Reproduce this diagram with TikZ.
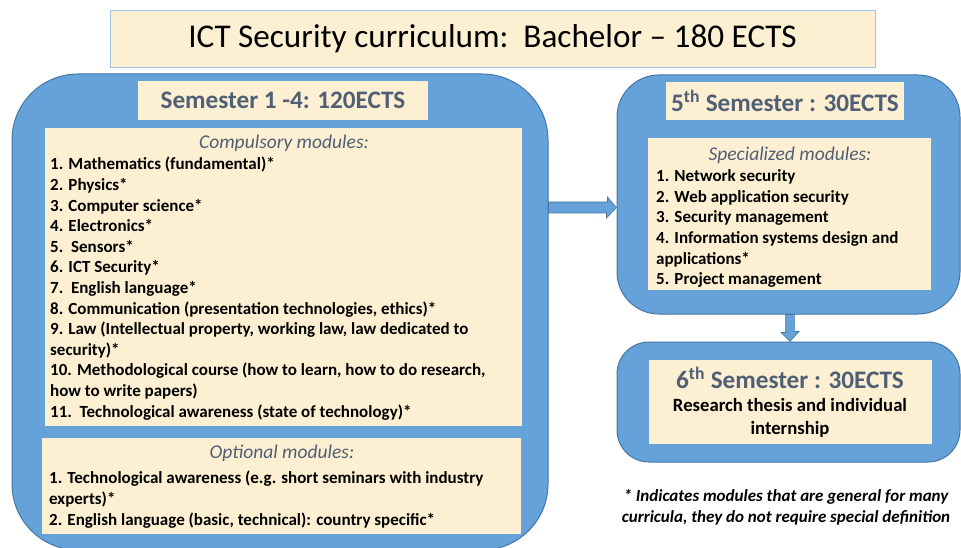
\documentclass[tikz,border=0pt]{standalone}
\usepackage{fontspec}
\setmainfont{Carlito}
\definecolor{boxblue}{RGB}{101,162,218}
\definecolor{boxedge}{RGB}{70,118,162}
\definecolor{beige}{RGB}{253,239,210}
\definecolor{titleedge}{RGB}{160,196,228}
\definecolor{headtxt}{RGB}{79,96,118}
\tikzset{
  bigbox/.style={draw=boxedge, line width=1pt, fill=boxblue, inner sep=0pt},
  beigebox/.style={fill=beige, draw=none, inner sep=0pt},
  headtext/.style={font=\fontsize{25.2}{29}\selectfont\bfseries, text=headtxt, inner sep=0pt},
  subtitle/.style={font=\fontsize{19.5}{22}\selectfont\itshape, text=headtxt, inner sep=0pt},
  listtext/.style={font=\fontsize{17}{20.6}\selectfont\bfseries, align=left, inner sep=0pt, anchor=north west},
  blockarrow/.style={fill=boxblue, draw=boxedge, line width=0.6pt, line join=miter}
}
\begin{document}
\begin{tikzpicture}[x=1pt,y=-1pt]
\useasboundingbox (0,0) rectangle (961,548);
% title
\node[fill=beige, draw=titleedge, line width=0.8pt, minimum width=765pt, minimum height=57pt, inner sep=0pt,
  font=\fontsize{33.2}{38}\selectfont] (title) at (492.5,38.5) {ICT Security curriculum:\ \ Bachelor -- 180 ECTS};
% left big box
\node[bigbox, rounded corners=66pt, minimum width=536pt, minimum height=476pt] (s14) at (280,312) {};
\node[beigebox, minimum width=290pt, minimum height=39pt] (s14h) at (283,100.5) {};
\node[headtext] (s14ht) at (s14h) {Semester 1 -4: 120ECTS};
\node[beigebox, minimum width=477pt, minimum height=298pt] (comp) at (283.5,277) {};
\node[subtitle] (compt) at (284,143) {Compulsory modules:};
\node[listtext] (complist) at (50,157) {1. Mathematics (fundamental)*\\
2. Physics*\\
3. Computer science*\\
4. Electronics*\\
5.\ \ Sensors*\\
6. ICT Security*\\
7.\ \ English language*\\
8. Communication (presentation technologies, ethics)*\\
9. Law (Intellectual property, working law, law dedicated to\\
security)*\\
10. Methodological course (how to learn, how to do research,\\
how to write papers)\\
11.\ \ Technological awareness (state of technology)*};
\node[beigebox, minimum width=479pt, minimum height=96pt] (opt) at (281.5,486) {};
\node[subtitle] (optt) at (282,453) {Optional modules:};
\node[listtext] (optlist) at (49,471) {1. Technological awareness (e.g. short seminars with industry\\
experts)*\\
2. English language (basic, technical): country specific*};
% 5th semester
\node[bigbox, rounded corners=42pt, minimum width=343pt, minimum height=239pt] (s5) at (788.5,194.5) {};
\node[beigebox, minimum width=238pt, minimum height=38pt] (s5h) at (785,101) {};
\node[headtext] (s5ht) at (s5h) {5\textsuperscript{th} Semester : 30ECTS};
\node[beigebox, minimum width=283pt, minimum height=152pt] (spec) at (789.5,214) {};
\node[subtitle] (spect) at (790,155) {Specialized modules:};
\node[listtext] (speclist) at (656,169.5) {1. Network security\\
2. Web application security\\
3. Security management\\
4. Information systems design and\\
applications*\\
5. Project management};
% 6th semester
\node[bigbox, rounded corners=32pt, minimum width=343pt, minimum height=120pt] (s6) at (788.5,402) {};
\node[beigebox, minimum width=283pt, minimum height=84pt] (s6in) at (790.5,402) {};
\node[headtext] (s6ht) at (790,378) {6\textsuperscript{th} Semester : 30ECTS};
\node[font=\fontsize{18.7}{23}\selectfont\bfseries, align=center, inner sep=0pt] (s6txt) at (790,418) {Research thesis and individual\\internship};
% footnote
\node[font=\fontsize{17}{21}\selectfont\bfseries\itshape, align=center, inner sep=0pt] (note) at (786,507)
  {* Indicates modules that are general for many\\curricula, they do not require special definition};
% arrows
\draw[blockarrow] (s14.east |- 0,202) -- ++(59,0) -- ++(0,-5) -- (s5.west |- 0,207.5) -- ++(-10,10.5) -- ++(0,-5) -- (s14.east |- 0,213) -- cycle;
\draw[blockarrow] (s5.south -| 785.7,0) -- ++(0,18) -- ++(-4.7,0) -- (s6.north -| 790,0) -- ++(9,-10) -- ++(-4.7,0) -- (s5.south -| 794.3,0) -- cycle;
\end{tikzpicture}
\end{document}
